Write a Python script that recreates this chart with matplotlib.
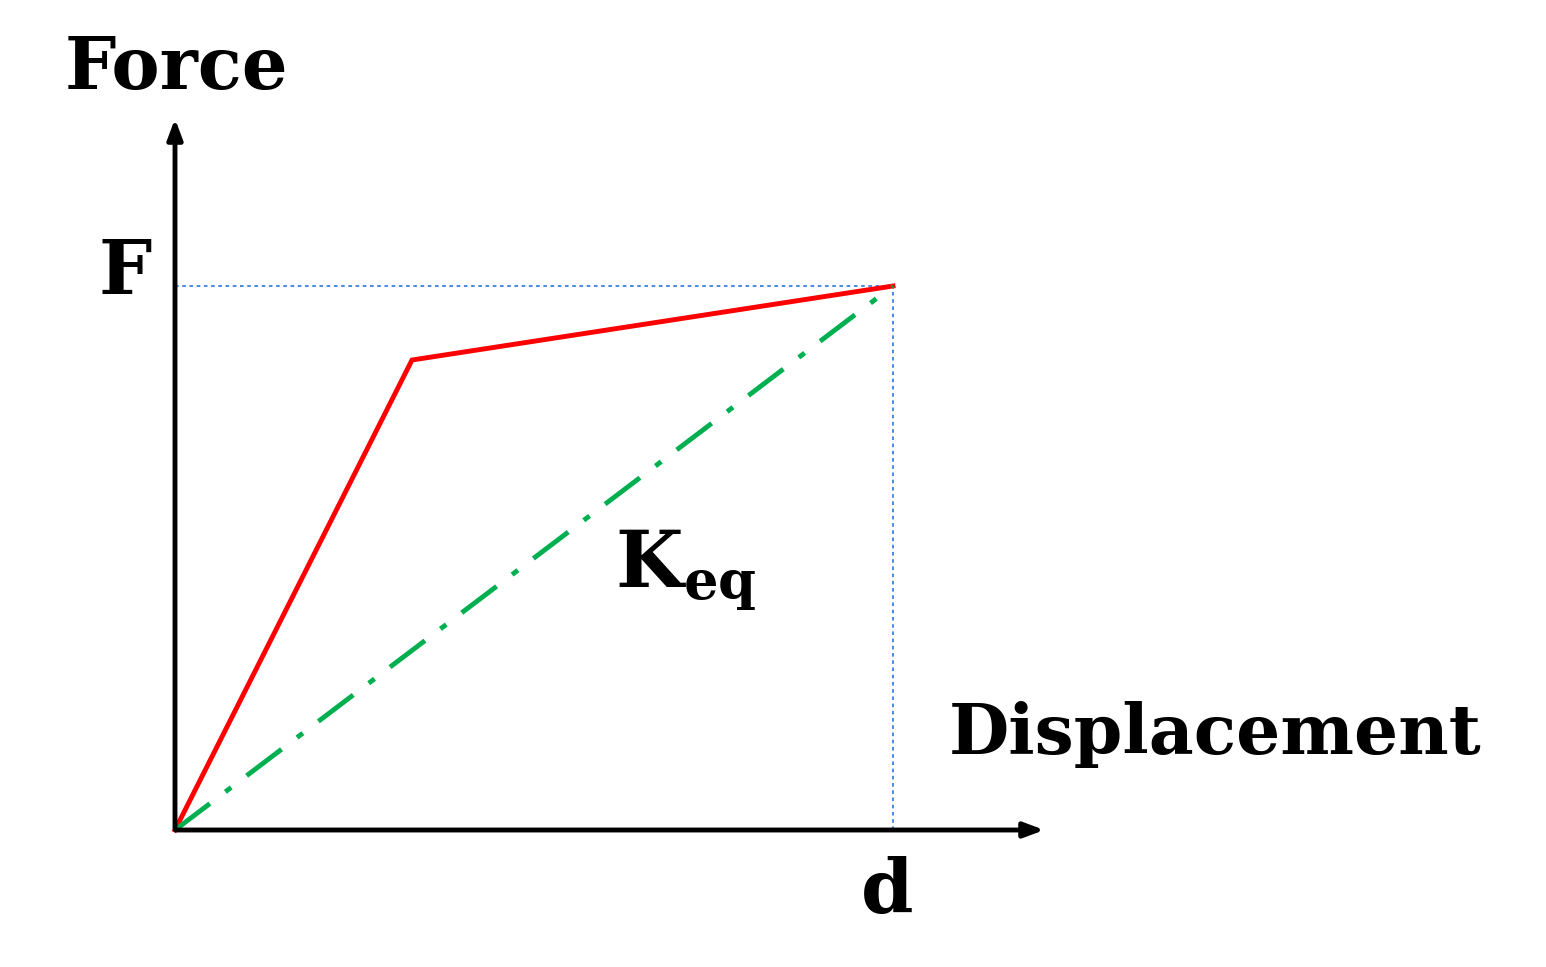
import matplotlib
matplotlib.use("Agg")
import matplotlib.pyplot as plt

plt.rcParams["mathtext.fontset"] = "dejavuserif"

# schematic data (arbitrary units)
disp_curve = [0, 237, 718]
force_curve = [0, 470, 544]
d_val = 718
F_val = 544

fig = plt.figure(figsize=(15.46, 9.67), dpi=100)
ax = fig.add_axes([0, 0, 1, 1])
ax.set_xlim(-175, 1546 - 175)
ax.set_ylim(-137, 830)
ax.axis("off")

font = dict(family="DejaVu Serif", fontweight="bold", color="black")

# axes arrows
ax.annotate("", xy=(872, 0), xytext=(-2, 0),
            arrowprops=dict(arrowstyle="-|>,head_length=1.2,head_width=0.45", lw=3.5, color="black"))
ax.annotate("", xy=(0, 714), xytext=(0, -2),
            arrowprops=dict(arrowstyle="-|>,head_length=1.2,head_width=0.45", lw=3.5, color="black"))

# guide lines
ax.plot([0, d_val], [F_val, F_val], ls=(0, (2, 2)), color="#3b7fe0", lw=1.3)
ax.plot([d_val, d_val], [0, F_val], ls=(0, (2, 2)), color="#3b7fe0", lw=1.3)

# curves
ax.plot(disp_curve, force_curve, color="#ff0000", lw=3.5, solid_joinstyle="miter")
ax.plot([0, d_val], [0, F_val], color="#00b050", lw=3.5, ls=(0, (9, 4, 1.5, 4)))

ax.text(-110, 762, "Force", fontsize=52, ha="left", va="center", **font)
ax.text(-50, F_val + 12, "F", fontsize=54, ha="center", va="center", **font)
ax.text(d_val - 6, -62, "d", fontsize=54, ha="center", va="center", **font)
ax.text(774, 96, "Displacement", fontsize=50, ha="left", va="center", **font)
ax.text(440, 260, r"$\mathbf{K_{eq}}$", fontsize=56, ha="left", va="center")

fig.savefig("out.png", dpi=100, facecolor="white")
